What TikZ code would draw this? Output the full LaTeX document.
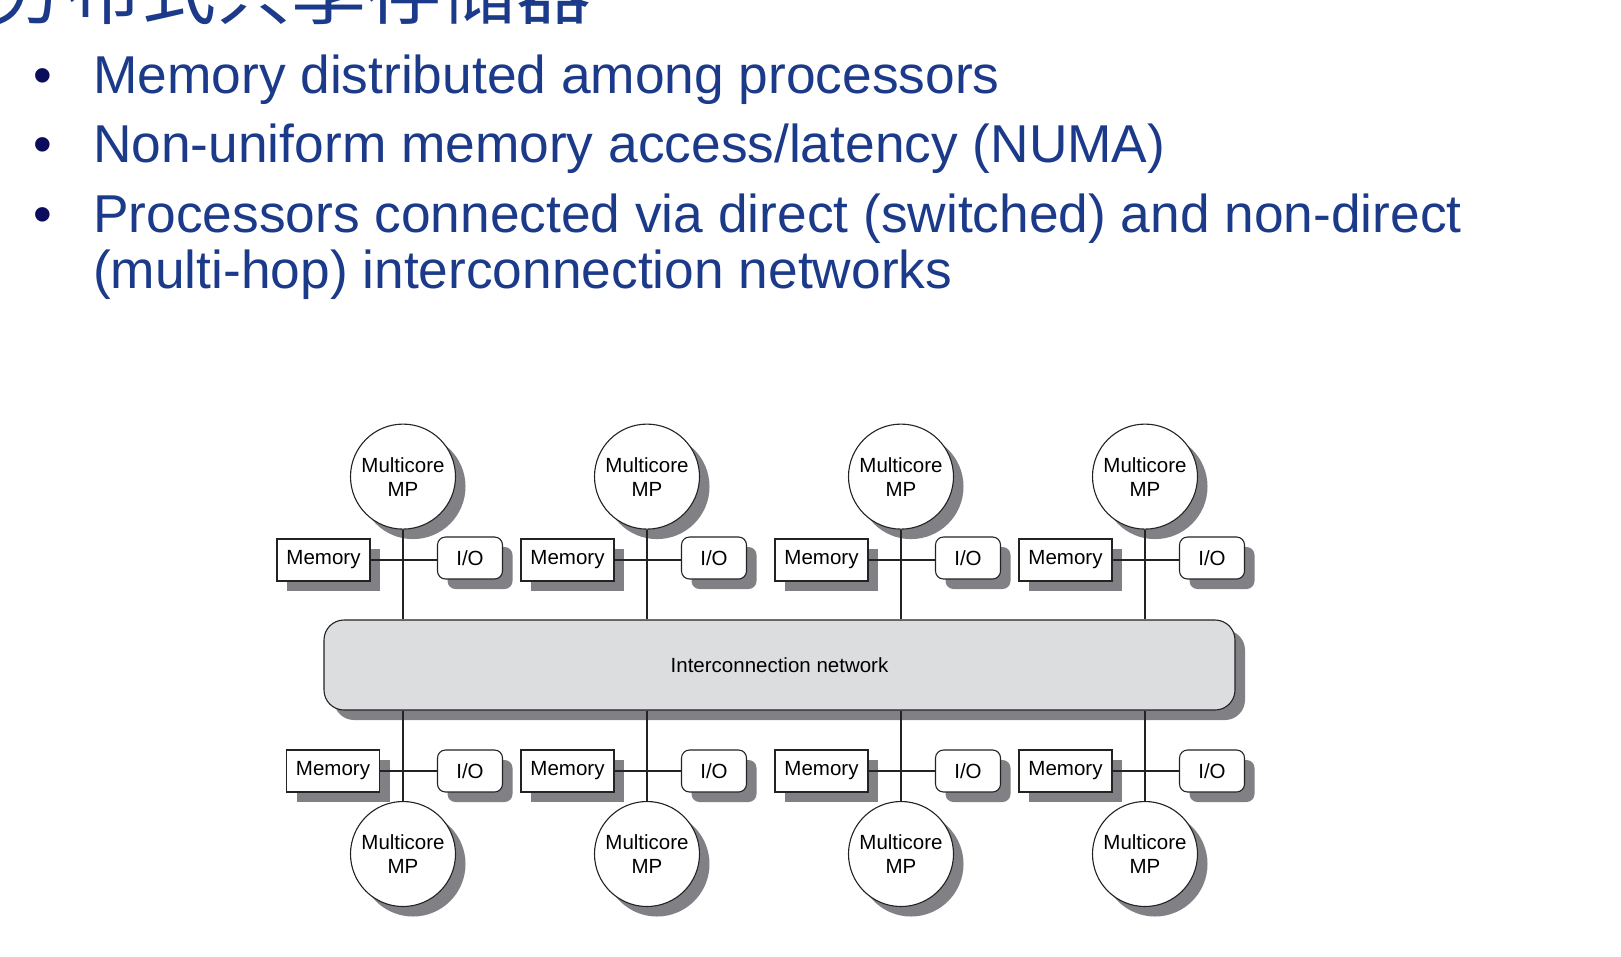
\documentclass[tikz,border=0pt]{standalone}
\usepackage{fontspec}
\setmainfont{Liberation Sans}
\newfontfamily\cjk{Noto Sans CJK SC}
\usetikzlibrary{shadows}
\definecolor{textblue}{RGB}{28,58,138}
\definecolor{bulletnavy}{RGB}{12,12,92}
\definecolor{shadowgray}{RGB}{128,128,133}
\definecolor{netfill}{RGB}{220,221,223}
\definecolor{linecol}{RGB}{35,35,35}
\begin{document}
\begin{tikzpicture}[x=1pt,y=-1pt,
  bul/.style={anchor=base, inner sep=0pt, text=bulletnavy, font=\fontsize{53.3}{60}\selectfont},
  btext/.style={anchor=base west, inner sep=0pt, text=textblue, font=\fontsize{53.3}{60}\selectfont},
  shad/.style={drop shadow={shadow xshift=10pt, shadow yshift=-10pt, fill=shadowgray, opacity=1}},
  cpu/.style={circle, draw=linecol, line width=1.1pt, fill=white, minimum size=105pt, inner sep=0pt,
    align=center, font=\fontsize{20.5}{24}\selectfont, shad},
  memo/.style={rectangle, draw=linecol, line width=1.1pt, fill=white, minimum width=93pt, minimum height=42pt,
    inner sep=0pt, font=\fontsize{20.5}{24}\selectfont, shad},
  iobox/.style={rectangle, rounded corners=8pt, draw=linecol, line width=1.1pt, fill=white, minimum width=65pt,
    minimum height=42pt, inner sep=0pt, font=\fontsize{20.5}{24}\selectfont, shad},
  netbox/.style={rectangle, rounded corners=20pt, draw=linecol, line width=1.1pt, fill=netfill, minimum width=911pt,
    minimum height=90pt, inner sep=0pt, font=\fontsize{20.5}{24}\selectfont, shad},
  wire/.style={draw=linecol, line width=1.1pt}
]
\useasboundingbox (0,0) rectangle (1621,956);
\fill[white] (0,0) rectangle (1621,956);

% title (cut off at top, as in the reference)
\node[anchor=base west, inner sep=0pt, text=textblue, font=\cjk\fontsize{75}{80}\selectfont] (title) at (-9,18) {分布式共享存储器};

% bullets
\node[bul] (b1) at (43,93) {•};
\node[btext] (t1) at (93,93) {Memory distributed among processors};
\node[bul] (b2) at (43,162) {•};
\node[btext] (t2) at (93,162) {Non-uniform memory access/latency (NUMA)};
\node[bul] (b3) at (43,232) {•};
\node[btext] (t3) at (93,232) {Processors connected via direct (switched) and non-direct};
\node[btext] (t4) at (93,288) {(multi-hop) interconnection networks};

% network
\node[netbox] (net) at (779.5,665) {Interconnection network};

% columns
\foreach \i/\cx/\mb in {1/403/70, 2/647/79.5, 3/901/79.5, 4/1145/79.5} {
  \node[cpu] (cpuT\i) at (\cx,476.6) {Multicore\\MP};
  \node[memo] (memT\i) at (\cx-79.5,560) {Memory};
  \node[iobox] (ioT\i) at (\cx+67,558) {I/O};
  \node[cpu] (cpuB\i) at (\cx,854) {Multicore\\MP};
  \node[memo] (memB\i) at (\cx-\mb,771) {Memory};
  \node[iobox] (ioB\i) at (\cx+67,771) {I/O};
}
\foreach \i in {1,2,3,4} {
  \draw[wire] (cpuT\i.south) -- (cpuT\i.south |- net.north);
  \draw[wire] (memT\i.east) -- (memT\i.east -| ioT\i.west);
  \draw[wire] (net.south -| cpuB\i.north) -- (cpuB\i.north);
  \draw[wire] (memB\i.east) -- (ioB\i.west);
}
\end{tikzpicture}
\end{document}
